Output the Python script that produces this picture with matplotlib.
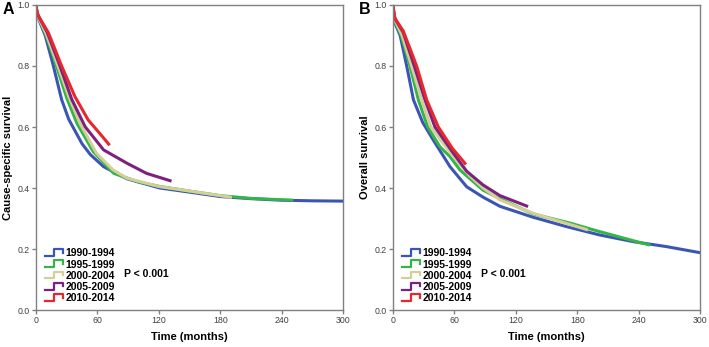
import matplotlib
matplotlib.use("Agg")
import matplotlib.pyplot as plt
from matplotlib.legend_handler import HandlerBase
from matplotlib.lines import Line2D

# period labels and colours
periods = ["1990-1994", "1995-1999", "2000-2004", "2005-2009", "2010-2014"]
colors = ["#3b55b3", "#35b44a", "#d3cf98", "#7d2180", "#e8262e"]

# A: cause-specific survival
css_t = {
    "1990-1994": [0, 1, 3, 9, 17, 25, 32, 45, 53, 66, 89, 121, 153, 180, 210, 240, 270, 300],
    "1995-1999": [0, 1, 3, 10, 20, 30, 40, 56, 76, 100, 121, 150, 180, 210, 250],
    "2000-2004": [0, 1, 3, 10, 21.5, 32, 43, 59, 75, 89, 120, 150, 190],
    "2005-2009": [0, 1, 3, 11, 23.4, 35, 48, 66, 89, 108, 131],
    "2010-2014": [0, 1, 3, 12, 25, 38, 51, 62, 71],
}
css_v = {
    "1990-1994": [1, 0.97, 0.95, 0.90, 0.80, 0.69, 0.625, 0.545, 0.51, 0.47, 0.43, 0.40, 0.385, 0.372, 0.365, 0.36, 0.358, 0.357],
    "1995-1999": [1, 0.97, 0.955, 0.90, 0.80, 0.695, 0.612, 0.519, 0.448, 0.42, 0.405, 0.39, 0.375, 0.366, 0.36],
    "2000-2004": [1, 0.97, 0.955, 0.905, 0.80, 0.70, 0.612, 0.514, 0.46, 0.432, 0.405, 0.39, 0.37],
    "2005-2009": [1, 0.975, 0.96, 0.91, 0.80, 0.69, 0.601, 0.525, 0.481, 0.448, 0.424],
    "2010-2014": [1, 0.975, 0.96, 0.91, 0.80, 0.70, 0.623, 0.58, 0.544],
}

# B: overall survival
os_t = {
    "1990-1994": [0, 1, 2, 7, 13.4, 20, 29, 39.4, 55.7, 72, 88, 104.5, 137, 170, 202, 235, 267, 300],
    "1995-1999": [0, 1, 2, 8, 16.6, 24.8, 33.9, 45.9, 55.7, 65.5, 88, 104.5, 124, 137, 173, 202, 245, 250],
    "2000-2004": [0, 1, 2, 9, 18.2, 28, 37, 59, 75, 88, 104.5, 137, 189],
    "2005-2009": [0, 1, 2, 10, 20.8, 31.3, 41, 59, 72, 88, 104.5, 130.6],
    "2010-2014": [0, 1, 2, 10, 23.1, 32.9, 44.3, 58, 70.3],
}
os_v = {
    "1990-1994": [1, 0.96, 0.94, 0.90, 0.80, 0.689, 0.615, 0.557, 0.47, 0.404, 0.37, 0.34, 0.304, 0.273, 0.246, 0.224, 0.208, 0.188],
    "1995-1999": [1, 0.965, 0.945, 0.90, 0.80, 0.689, 0.60, 0.535, 0.503, 0.459, 0.393, 0.365, 0.335, 0.315, 0.285, 0.257, 0.218, 0.214],
    "2000-2004": [1, 0.965, 0.95, 0.90, 0.80, 0.689, 0.60, 0.503, 0.44, 0.40, 0.361, 0.317, 0.264],
    "2005-2009": [1, 0.97, 0.955, 0.91, 0.80, 0.689, 0.60, 0.514, 0.455, 0.41, 0.375, 0.341],
    "2010-2014": [1, 0.97, 0.955, 0.915, 0.80, 0.689, 0.60, 0.53, 0.481],
}

x_ticks = [0, 60, 120, 180, 240, 300]
y_ticks = [0.0, 0.2, 0.4, 0.6, 0.8, 1.0]

plt.rcParams["font.family"] = ["Liberation Sans", "DejaVu Sans"]


class StepHandler(HandlerBase):
    # SPSS-like step glyph in the legend
    def create_artists(self, legend, orig_handle, xdescent, ydescent,
                       width, height, fontsize, trans):
        x0, y0 = -xdescent, -ydescent
        xs = [x0, x0 + 0.5 * width, x0 + 0.5 * width, x0 + width, x0 + width]
        ys = [y0 + 0.05 * height, y0 + 0.05 * height, y0 + 1.0 * height,
              y0 + 1.0 * height, y0 + 0.5 * height]
        ln = Line2D(xs, ys, color=orig_handle.get_color(), lw=1.6, transform=trans)
        return [ln]


def draw_panel(ax, t_data, v_data, ylabel, letter):
    handles = []
    for name, c in zip(periods, colors):
        ln, = ax.plot(t_data[name], v_data[name], color=c, lw=2.2, label=name)
        handles.append(ln)

    ax.set_xlim(0, 300)
    ax.set_ylim(0, 1.0)
    ax.set_xticks(x_ticks)
    ax.set_xticklabels([str(x) for x in x_ticks])
    ax.set_yticks(y_ticks)
    ax.set_yticklabels([f"{y:.1f}" for y in y_ticks])
    ax.tick_params(direction="out", length=3, width=1, color="#808080",
                   labelsize=6.3, labelcolor="#404040", pad=1.5)
    for s in ax.spines.values():
        s.set_color("#808080")
        s.set_linewidth(1.0)

    ax.set_xlabel("Time (months)", fontsize=8, fontweight="bold", labelpad=5)
    ax.set_ylabel(ylabel, fontsize=8, fontweight="bold", labelpad=3)

    ax.legend(handles=handles, loc="lower left",
              bbox_to_anchor=(0.028, 0.022), frameon=False,
              handler_map={Line2D: StepHandler()},
              prop={"weight": "bold", "size": 7.5},
              handlelength=1.75, handletextpad=0.25, labelspacing=0.12,
              borderaxespad=0, borderpad=0)

    ax.text(0.288, 0.118, "P < 0.001", transform=ax.transAxes,
            fontsize=7.5, fontweight="bold", va="center")

    ax.text(-0.11, 0.984, letter, transform=ax.transAxes, fontsize=11.5,
            fontweight="bold", va="center", ha="left")


fig = plt.figure(figsize=(7.09, 3.47), dpi=100)
ax_a = fig.add_axes([0.0508, 0.1066, 0.433, 0.879])
ax_b = fig.add_axes([0.5543, 0.1066, 0.433, 0.879])

draw_panel(ax_a, css_t, css_v, "Cause-specific survival", "A")
draw_panel(ax_b, os_t, os_v, "Overall survival", "B")

fig.savefig("out.png", dpi=100)
